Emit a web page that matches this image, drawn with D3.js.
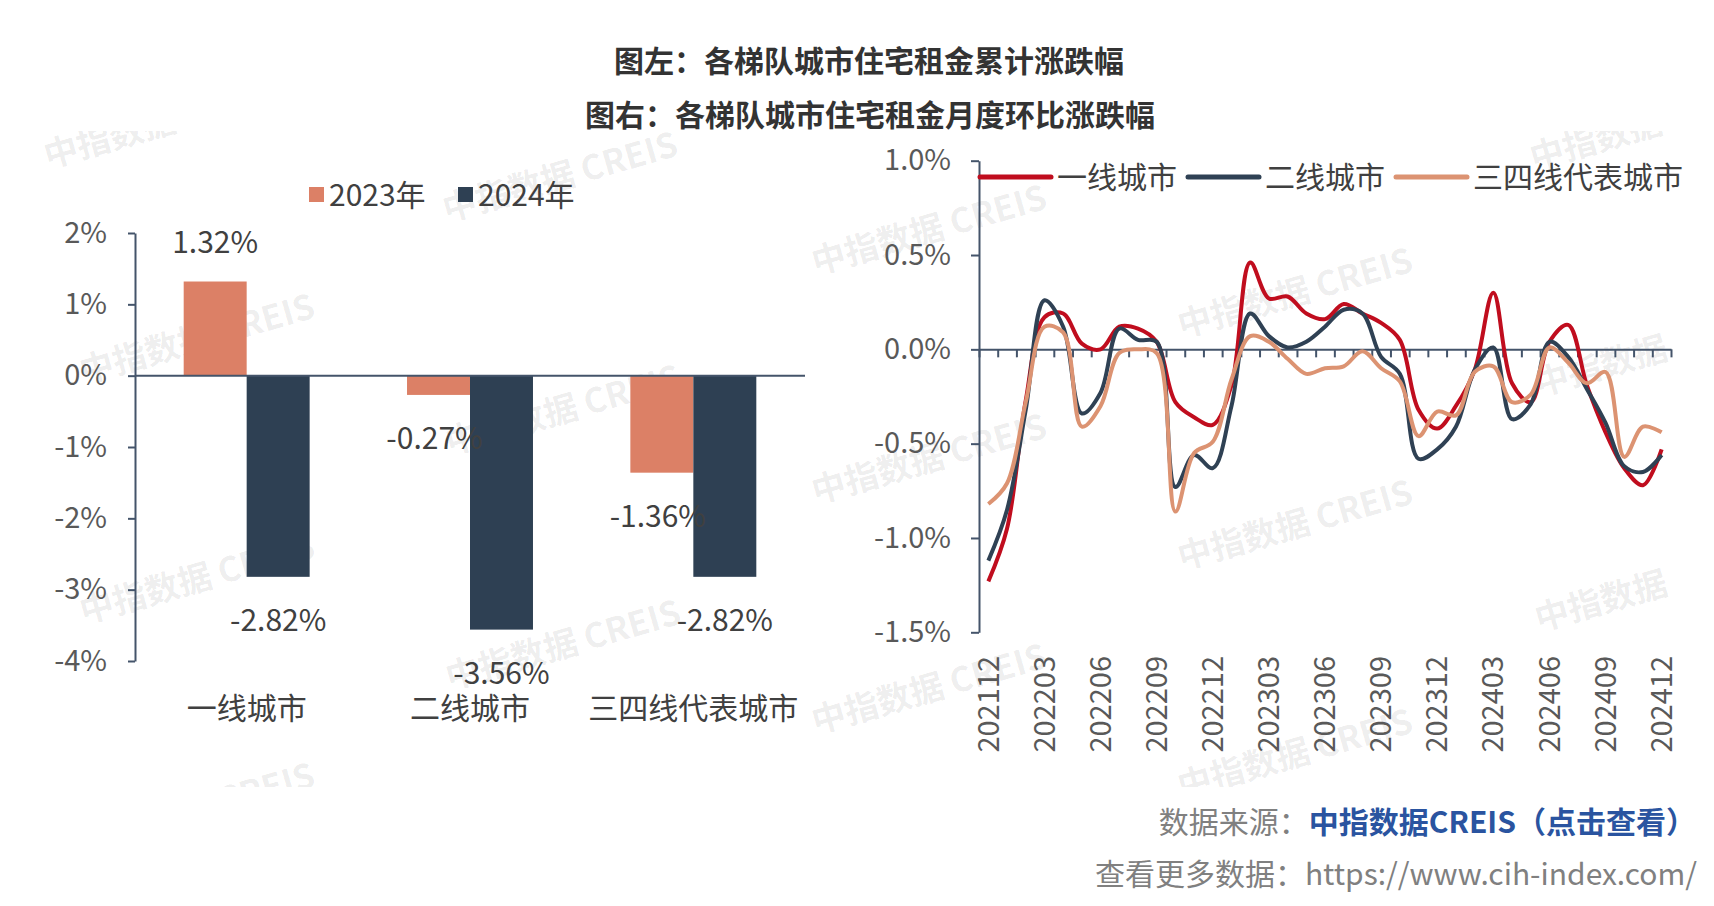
<!DOCTYPE html>
<html>
<head>
<meta charset="utf-8">
<script src="https://cdn.jsdelivr.net/npm/d3@7"></script>
<style>
	body { margin: 0; background: #fff; }
	svg { display: block; font-family: 'Noto Sans CJK SC', 'Noto Sans', sans-serif; }
	.axis path, .axis line { stroke: #44546a; stroke-width: 2; }
	.axis text { fill: #595959; font-size: 29px; font-family: 'Noto Sans CJK SC', 'Noto Sans', sans-serif; }
</style>
</head>
<body>
<svg id="chart" width="1714" height="906"></svg>
<script>

// left chart: cumulative change by city tier
var cities = ['一线城市', '二线城市', '三四线代表城市'];
var years = ['2023年', '2024年'];
var rent2023 = [1.32, -0.27, -1.36];
var rent2024 = [-2.82, -3.56, -2.82];
var barTicks = [2, 1, 0, -1, -2, -3, -4];

// right chart: month on month change
var months = [
	'202112', '202201', '202202', '202203', '202204', '202205', '202206', '202207',
	'202208', '202209', '202210', '202211', '202212', '202301', '202302', '202303',
	'202304', '202305', '202306', '202307', '202308', '202309', '202310', '202311',
	'202312', '202401', '202402', '202403', '202404', '202405', '202406', '202407',
	'202408', '202409', '202410', '202411', '202412'
];
var monthLabels = ['202112', '202203', '202206', '202209', '202212', '202303',
	'202306', '202309', '202312', '202403', '202406', '202409', '202412'];
var lineTicks = [1.0, 0.5, 0, -0.5, -1.0, -1.5];
var seriesNames = ['一线城市', '二线城市', '三四线代表城市'];
var tier1 = [-1.23, -0.95, -0.27, 0.17, 0.19, 0.03, 0.00, 0.12, 0.11, 0.04, -0.28, -0.36,
	-0.40, -0.19, 0.46, 0.27, 0.28, 0.19, 0.16, 0.24, 0.19, 0.14, 0.05, -0.32,
	-0.42, -0.30, -0.11, 0.30, -0.18, -0.28, 0.04, 0.13, -0.19, -0.44, -0.63, -0.72, -0.53];
var tier2 = [-1.12, -0.85, -0.32, 0.26, 0.12, -0.34, -0.23, 0.11, 0.05, 0.04, -0.73, -0.56,
	-0.63, -0.30, 0.19, 0.07, 0.01, 0.04, 0.12, 0.21, 0.19, -0.04, -0.13, -0.58,
	-0.53, -0.41, -0.11, 0.01, -0.37, -0.29, 0.04, -0.04, -0.21, -0.39, -0.62, -0.65, -0.56];
var tier3 = [-0.82, -0.71, -0.28, 0.12, 0.09, -0.41, -0.30, -0.02, 0.00, -0.02, -0.86, -0.55,
	-0.49, -0.16, 0.07, 0.04, -0.05, -0.13, -0.10, -0.09, -0.01, -0.10, -0.17, -0.46,
	-0.33, -0.35, -0.12, -0.09, -0.28, -0.24, 0.01, -0.07, -0.18, -0.12, -0.57, -0.41, -0.44];

var barColors = { '2023年': '#dc8066', '2024年': '#2e4053' };
var lineColors = ['#c00d1e', '#2f4154', '#dc9372'];

var svg = d3.select('#chart');

// watermark, drawn first so everything sits on top
var marks = [
	[560, 177, '中指数据 CREIS'], [929, 230, '中指数据 CREIS'], [197, 339, '中指数据 CREIS'],
	[563, 410, '中指数据 CREIS'], [1295, 293, '中指数据 CREIS'], [929, 459, '中指数据 CREIS'],
	[197, 579, '中指数据 CREIS'], [563, 645, '中指数据 CREIS'], [1295, 525, '中指数据 CREIS'],
	[929, 689, '中指数据 CREIS'], [1295, 754, '中指数据 CREIS'], [1601, 601, '中指数据'],
	[1601, 366, '中指数据'], [1596, 140, '中指数据'], [110, 138, '中指数据'], [197, 808, '中指数据 CREIS']
];
svg.append('clipPath').attr('id', 'wmclip')
	.append('rect').attr('x', 0).attr('y', 131).attr('width', 1683).attr('height', 656);
svg.append('g').attr('clip-path', 'url(#wmclip)')
	.selectAll('text').data(marks).enter().append('text')
	.attr('transform', function(d){ return 'translate(' + d[0] + ',' + d[1] + ') rotate(-16)'; })
	.attr('text-anchor', 'middle').attr('dy', '0.35em')
	.attr('font-size', 34).attr('font-weight', 'bold')
	.attr('fill', '#000').attr('fill-opacity', 0.08)
	.text(function(d){ return d[2]; });

// titles
svg.append('text').attr('x', 869).attr('y', 72).attr('text-anchor', 'middle')
	.attr('font-size', 30).attr('font-weight', 'bold').attr('fill', '#333')
	.text('图左：各梯队城市住宅租金累计涨跌幅');
svg.append('text').attr('x', 870).attr('y', 126).attr('text-anchor', 'middle')
	.attr('font-size', 30).attr('font-weight', 'bold').attr('fill', '#333')
	.text('图右：各梯队城市住宅租金月度环比涨跌幅');

// ---------- left bar chart ----------
var xL = d3.scaleBand().domain(cities).range([135, 805])
	.paddingInner(0.436).paddingOuter(0.218);
var xSub = d3.scaleBand().domain(years).range([0, xL.bandwidth()]);
var yL = d3.scaleLinear().domain([-4, 2]).range([661, 233]);

var barData = [];
cities.forEach(function(c, i){
	barData.push({ city: c, year: years[0], v: rent2023[i] });
	barData.push({ city: c, year: years[1], v: rent2024[i] });
});

var left = svg.append('g');
left.selectAll('rect.bar').data(barData).enter().append('rect')
	.attr('class', 'bar')
	.attr('x', function(d){ return xL(d.city) + xSub(d.year); })
	.attr('width', xSub.bandwidth())
	.attr('y', function(d){ return yL(Math.max(0, d.v)); })
	.attr('height', function(d){ return Math.abs(yL(d.v) - yL(0)); })
	.attr('fill', function(d){ return barColors[d.year]; });

left.append('g').attr('class', 'axis')
	.attr('transform', 'translate(135,0)')
	.call(d3.axisLeft(yL).tickValues(barTicks).tickSize(7).tickSizeOuter(0).tickPadding(21)
		.tickFormat(function(d){ return d + '%'; }));

// zero line
left.append('line').attr('x1', 135).attr('x2', 805)
	.attr('y1', yL(0)).attr('y2', yL(0))
	.attr('stroke', '#44546a').attr('stroke-width', 2);

left.selectAll('text.vlabel').data(barData).enter().append('text')
	.attr('class', 'vlabel')
	.attr('x', function(d){ return xL(d.city) + xSub(d.year) + xSub.bandwidth() / 2 - (d.year === years[0] && d.v < 0 ? 4 : 0); })
	.attr('y', function(d){ return yL(d.v) + (d.v >= 0 ? -39 : 44); })
	.attr('dy', '0.35em').attr('text-anchor', 'middle')
	.attr('font-size', 30).attr('fill', '#404040')
	.text(function(d){ return d.v.toFixed(2) + '%'; });

left.selectAll('text.city').data(cities).enter().append('text')
	.attr('class', 'city')
	.attr('x', function(d){ return xL(d) + xL.bandwidth() / 2; })
	.attr('y', 708).attr('dy', '0.35em').attr('text-anchor', 'middle')
	.attr('font-size', 30).attr('fill', '#404040')
	.text(function(d){ return d; });

// left legend
var legL = left.selectAll('g.leg').data(years).enter().append('g')
	.attr('transform', function(d, i){ return 'translate(' + (309 + i * 149) + ',195)'; });
legL.append('rect').attr('x', 0).attr('y', -8).attr('width', 15).attr('height', 15)
	.attr('fill', function(d){ return barColors[d]; });
legL.append('text').attr('x', 20).attr('dy', '0.35em')
	.attr('font-size', 30).attr('fill', '#404040')
	.text(function(d){ return d; });

// ---------- right line chart ----------
var xR = d3.scaleBand().domain(months).range([979, 1671]);
var xIdx = d3.scaleLinear().domain([0, months.length]).range([979, 1671]);
var yR = d3.scaleLinear().domain([-1.5, 1.0]).range([632.3, 160.7]);

var right = svg.append('g');

right.append('g').attr('class', 'axis')
	.attr('transform', 'translate(979,0)')
	.call(d3.axisLeft(yR).tickValues(lineTicks).tickSize(8).tickSizeOuter(0).tickPadding(20)
		.tickFormat(function(d){ return d.toFixed(1) + '%'; }));

// zero line with month ticks
right.append('g').attr('class', 'axis')
	.attr('transform', 'translate(0,' + yR(0) + ')')
	.call(d3.axisBottom(xIdx).tickValues(d3.range(0, months.length + 1)).tickSize(8)
		.tickSizeOuter(0).tickFormat(''));

right.selectAll('text.month').data(monthLabels).enter().append('text')
	.attr('class', 'month')
	.attr('transform', function(d){
		return 'translate(' + (xR(d) + xR.bandwidth() / 2) + ',656) rotate(-90)';
	})
	.attr('text-anchor', 'end').attr('dy', '0.35em')
	.attr('font-size', 29).attr('fill', '#595959')
	.text(function(d){ return d; });

var line = d3.line()
	.x(function(d, i){ return xR(months[i]) + xR.bandwidth() / 2; })
	.y(function(d){ return yR(d); })
	.curve(d3.curveCatmullRom.alpha(0.5));

right.selectAll('path.series').data([tier1, tier2, tier3]).enter().append('path')
	.attr('class', 'series')
	.attr('d', line)
	.attr('fill', 'none')
	.attr('stroke', function(d, i){ return lineColors[i]; })
	.attr('stroke-width', 4)
	.attr('stroke-linejoin', 'round');

// right legend
var legX = [980, 1188, 1396];
var legR = right.selectAll('g.leg').data(seriesNames).enter().append('g')
	.attr('transform', function(d, i){ return 'translate(' + legX[i] + ',177)'; });
legR.append('line').attr('x1', 0).attr('x2', 71).attr('y1', 0).attr('y2', 0)
	.attr('stroke', function(d, i){ return lineColors[i]; })
	.attr('stroke-width', 5).attr('stroke-linecap', 'round');
legR.append('text').attr('x', 77).attr('dy', '0.35em')
	.attr('font-size', 30).attr('fill', '#404040')
	.text(function(d){ return d; });

// source notes
var src = svg.append('text').attr('x', 1696).attr('y', 833).attr('text-anchor', 'end')
	.attr('font-size', 30);
src.append('tspan').attr('fill', '#808080').text('数据来源：');
src.append('tspan').attr('fill', '#2a54a0').attr('font-weight', 'bold').text('中指数据CREIS（点击查看）');

svg.append('text').attr('x', 1697).attr('y', 885).attr('text-anchor', 'end')
	.attr('font-size', 30).attr('fill', '#808080')
	.text('查看更多数据：https://www.cih-index.com/');

</script>
</body>
</html>
